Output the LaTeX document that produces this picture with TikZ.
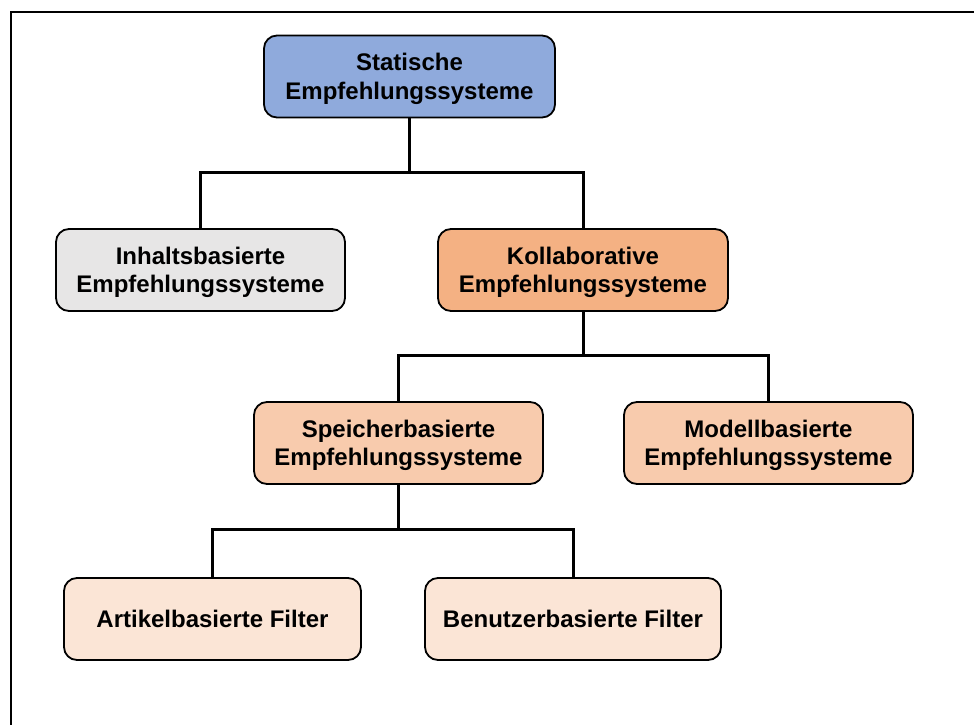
\documentclass[tikz,border=0pt]{standalone}
\usepackage{fontspec}
\setmainfont{Liberation Sans}
\definecolor{topblue}{HTML}{8FAADC}
\definecolor{greyfill}{HTML}{E7E6E6}
\definecolor{orangedark}{HTML}{F4B183}
\definecolor{orangemid}{HTML}{F8CBAD}
\definecolor{orangelight}{HTML}{FBE5D6}
% last line without descender depth, so the text sits centred on its baseline
\newcommand{\flatline}[1]{\raisebox{0pt}[\height][0pt]{#1}}
\tikzset{
  box/.style={draw=black, line width=1.8pt, rounded corners=13pt,
    minimum height=82pt, align=center,
    font=\fontsize{24}{28.5}\selectfont\bfseries},
  link/.style={draw=black, line width=3pt, line join=miter}
}
\begin{document}
\begin{tikzpicture}[x=1pt, y=-1pt]
  \useasboundingbox (0,0) rectangle (974,725);
  % outer frame
  \draw[line width=2pt] (11,725) -- (11,12) -- (974,12);

  \node[box, fill=topblue, minimum width=291pt] (stat) at (409.5,76.5)
    {Statische\\\flatline{Empfehlungssysteme}};
  \node[box, fill=greyfill, minimum width=289pt] (inh) at (200.5,270)
    {Inhaltsbasierte\\\flatline{Empfehlungssysteme}};
  \node[box, fill=orangedark, minimum width=290pt] (kol) at (583,270)
    {Kollaborative\\\flatline{Empfehlungssysteme}};
  \node[box, fill=orangemid, minimum width=289pt] (spe) at (398.5,443)
    {Speicherbasierte\\\flatline{Empfehlungssysteme}};
  \node[box, fill=orangemid, minimum width=289pt] (mod) at (768.5,443)
    {Modellbasierte\\\flatline{Empfehlungssysteme}};
  \node[box, fill=orangelight, minimum width=297pt] (art) at (212.5,619)
    {\flatline{Artikelbasierte Filter}};
  \node[box, fill=orangelight, minimum width=296pt] (ben) at (573,619)
    {\flatline{Benutzerbasierte Filter}};

  \draw[link] (stat.south) -- ++(0,54) -| (inh.north);
  \draw[link] (stat.south) -- ++(0,54) -| (kol.north);
  \draw[link] (kol.south) -- ++(0,44) -| (spe.north);
  \draw[link] (kol.south) -- ++(0,44) -| (mod.north);
  \draw[link] (spe.south) -- ++(0,45) -| (art.north);
  \draw[link] (spe.south) -- ++(0,45) -| (ben.north);
\end{tikzpicture}
\end{document}
